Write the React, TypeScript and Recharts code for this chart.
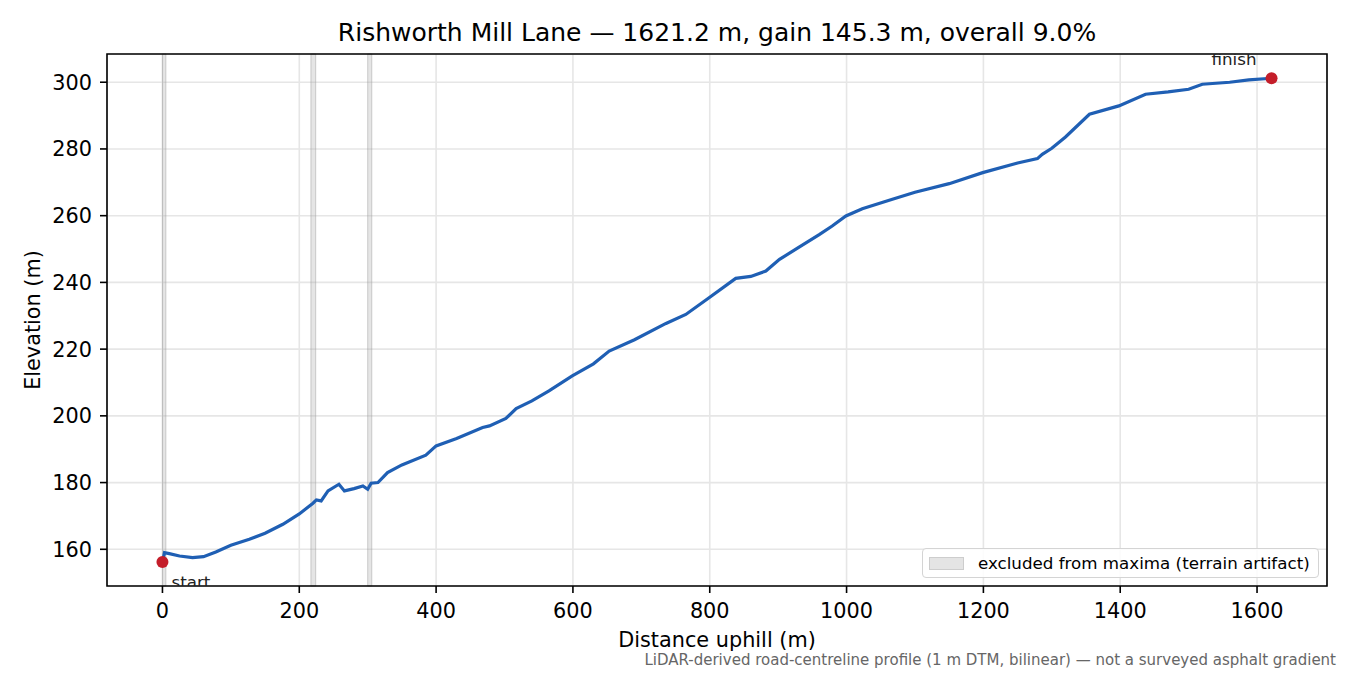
import React from "react";
import {
  ComposedChart,
  Line,
  Scatter,
  XAxis,
  YAxis,
  CartesianGrid,
  ReferenceArea,
  Legend,
} from "recharts";

// distance along the road (m) and DTM elevation (m)
const distance = [
  0, 3, 10, 25, 44, 60, 78, 100, 127, 150, 176, 200, 220, 225, 232, 242, 258,
  266, 280, 293, 300, 305, 315, 329, 350, 385, 400, 430, 468, 478, 502, 517,
  540, 565, 599, 630, 653, 690, 736, 765, 799, 838, 860, 882, 902, 930, 960,
  979, 999, 1023, 1067, 1100, 1150, 1199, 1250, 1279, 1286, 1300, 1320, 1355,
  1398, 1437, 1470, 1500, 1520, 1560, 1588, 1621.2,
];
const elevation = [
  156.2, 159.0, 158.7, 158.0, 157.5, 157.8, 159.2, 161.2, 163.0, 164.8, 167.5,
  170.6, 173.8, 174.8, 174.5, 177.5, 179.5, 177.5, 178.2, 179.0, 178.0, 179.8,
  180.0, 183.0, 185.3, 188.2, 191.0, 193.2, 196.5, 197.0, 199.2, 202.2, 204.5,
  207.5, 212.0, 215.6, 219.4, 222.8, 227.7, 230.4, 235.4, 241.2, 241.8, 243.4,
  246.9, 250.5, 254.3, 256.9, 259.9, 262.1, 264.9, 267.0, 269.6, 272.9, 275.8,
  277.1, 278.4, 280.2, 283.6, 290.4, 292.9, 296.4, 297.1, 297.9, 299.4, 300.0,
  300.7, 301.2,
];

// excluded stretches (terrain artifacts)
const excludedFrom = [0, 217, 300];
const excludedTo = [5, 224, 306];

// end markers
const markerDist = [0, 1621.2];
const markerElev = [156.2, 301.2];
const markerLabel = ["start", "finish"];

const xTicks = [0, 200, 400, 600, 800, 1000, 1200, 1400, 1600];
const yTicks = [160, 180, 200, 220, 240, 260, 280, 300];
const xDomain: [number, number] = [-81.06, 1702.26];
const yDomain: [number, number] = [149.0, 308.46];

const profile = distance.map((d, i) => ({ dist: d, elev: elevation[i] }));
const endpoints = markerDist.map((d, i) => ({
  dist: d,
  elev: markerElev[i],
  label: markerLabel[i],
}));

const FONT = "DejaVu Sans";

function EndMarker(props: any) {
  const { cx, cy, payload } = props;
  const isStart = payload.label === "start";
  return (
    <g>
      <circle cx={cx} cy={cy} r={6} fill="#c41e2a" />
      <text
        x={isStart ? cx + 9 : cx - 15}
        y={isStart ? cy + 26 : cy - 13}
        textAnchor={isStart ? "start" : "end"}
        fontSize={16.7}
        fill="#222"
      >
        {payload.label}
      </text>
    </g>
  );
}

function LegendBox() {
  return (
    <div
      style={{
        boxSizing: "border-box",
        width: 397,
        height: 30,
        border: "1.5px solid #d4d4d4",
        borderRadius: 4,
        background: "rgba(255,255,255,0.85)",
        display: "flex",
        alignItems: "center",
        paddingLeft: 6,
        fontFamily: FONT,
        fontSize: 16.7,
        color: "#000",
      }}
    >
      <span
        style={{
          display: "inline-block",
          width: 33,
          height: 11,
          background: "#e4e4e4",
          border: "1px solid #cdcdcd",
        }}
      />
      <span style={{ marginLeft: 14, whiteSpace: "nowrap" }}>
        excluded from maxima (terrain artifact)
      </span>
    </div>
  );
}

export default function App() {
  return (
    <div
      style={{
        position: "absolute",
        left: 0,
        top: 0,
        width: 1350,
        height: 675,
        background: "#fff",
        fontFamily: FONT,
      }}
    >
      <ComposedChart
        width={1350}
        height={675}
        data={profile}
        margin={{ top: 54, right: 23, bottom: 0, left: 0 }}
      >
        <CartesianGrid stroke="#e6e6e6" strokeWidth={1.6} />
        <XAxis
          type="number"
          dataKey="dist"
          domain={xDomain}
          ticks={xTicks}
          interval={0}
          allowDataOverflow
          height={89}
          axisLine={false}
          tickSize={7}
          tickMargin={10}
          tickLine={{ stroke: "#000", strokeWidth: 1.6 }}
          tick={{ fill: "#000", fontSize: 20.8 }}
          label={{
            value: "Distance uphill (m)",
            position: "insideBottom",
            offset: 28,
            fill: "#000",
            fontSize: 20.8,
          }}
        />
        <YAxis
          type="number"
          domain={yDomain}
          ticks={yTicks}
          interval={0}
          allowDataOverflow
          width={107}
          axisLine={false}
          tickSize={7}
          tickMargin={8}
          tickLine={{ stroke: "#000", strokeWidth: 1.6 }}
          tick={{ fill: "#000", fontSize: 20.8 }}
          label={{
            value: "Elevation (m)",
            angle: -90,
            position: "insideLeft",
            offset: 33,
            fill: "#000",
            fontSize: 20.8,
            style: { textAnchor: "middle" },
          }}
        />
        {excludedFrom.map((x1, i) => (
          <ReferenceArea
            key={i}
            x1={x1}
            x2={excludedTo[i]}
            fill="#a8a8a8"
            fillOpacity={0.3}
            stroke="#9a9a9a"
            strokeOpacity={0.45}
            strokeWidth={1}
            ifOverflow="visible"
          />
        ))}
        <Line
          dataKey="elev"
          type="linear"
          stroke="#1f5fb4"
          strokeWidth={3.2}
          dot={false}
          activeDot={false}
          isAnimationActive={false}
        />
        <Scatter
          data={endpoints}
          dataKey="elev"
          shape={EndMarker}
          isAnimationActive={false}
        />
        <ReferenceArea
          x1={xDomain[0]}
          x2={xDomain[1]}
          y1={yDomain[0]}
          y2={yDomain[1]}
          fill="none"
          stroke="#000"
          strokeWidth={1.6}
          ifOverflow="visible"
        />
        <Legend
          layout="vertical"
          align="center"
          verticalAlign="middle"
          content={() => <LegendBox />}
          wrapperStyle={{ position: "absolute", left: 922, top: 548, width: 397 }}
        />
      </ComposedChart>
      <svg
        width={1350}
        height={675}
        style={{ position: "absolute", left: 0, top: 0, pointerEvents: "none" }}
      >
        <text x={717} y={41} textAnchor="middle" fontSize={25} fill="#000">
          Rishworth Mill Lane — 1621.2 m, gain 145.3 m, overall 9.0%
        </text>
        <text x={1336} y={665} textAnchor="end" fontSize={15} fill="#666">
          LiDAR-derived road-centreline profile (1 m DTM, bilinear) — not a
          surveyed asphalt gradient
        </text>
      </svg>
    </div>
  );
}
